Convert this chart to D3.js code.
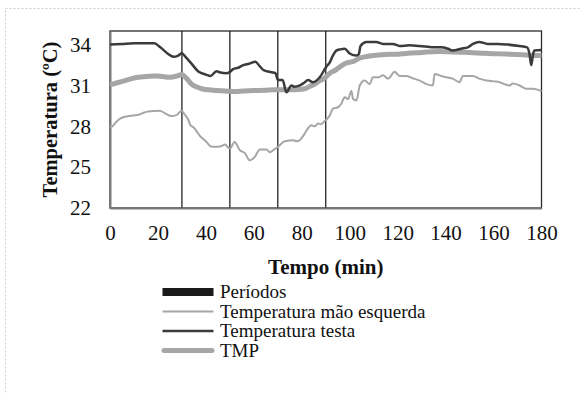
<!DOCTYPE html>
<html><head><meta charset="utf-8">
<script src="https://cdn.jsdelivr.net/npm/d3@7/dist/d3.min.js"></script>
<style>body{margin:0;background:#fff;}svg{display:block;}</style>
</head><body><svg id="c" width="581" height="394"></svg>
<script>
const FONT = "Liberation Serif";
const xTicks = [0,20,40,60,80,100,120,140,160,180];
const yTicks = [22,25,28,31,34];
const periods = [30,50,70,90];

const testaT = [0,5,10,15,18.5,21,24,26.5,28.5,30,31.5,34,37,40,42,44.4,46,48.6,50,51.4,53.5,55.6,58,60.6,62.5,64.3,67.4,69,70.1,72,73.6,75.7,77,79.2,81,82.6,84.7,87.5,90.3,91.7,93,94.4,96,97.9,100,102.8,103.8,104.5,106.9,111,113.9,118,120.8,125,129,132.6,134.7,138,141,143,146.5,149.3,151.4,154,157.6,162,166,170.8,174,175,175.7,176.5,177,180];
const testaV = [34.0,34.05,34.1,34.1,34.1,33.8,33.35,33.1,33.2,33.36,33.1,32.6,32.0,31.8,31.7,32.05,31.95,31.9,32.0,32.2,32.3,32.5,32.6,32.75,32.4,32.1,31.97,31.9,31.4,31.4,30.5,31.0,30.9,31.0,31.2,31.4,31.24,31.6,32.4,32.7,33.2,33.56,33.65,33.7,33.35,33.2,33.3,33.9,34.2,34.2,34.05,34.05,33.9,33.95,33.9,33.85,33.8,33.8,33.7,33.56,33.7,33.8,34.05,34.2,34.05,34.05,34.0,33.9,33.8,33.3,32.5,33.3,33.56,33.6];

const maoT = [0,1,2.5,4.2,6.25,9.7,12,14,16.7,20.8,23,25.7,27.5,29.9,31,32.6,33.5,35,37.5,40,42.4,45,46.5,47.9,50,52,54.2,56.2,58.3,60.4,62.5,65.3,66.7,68.5,70.1,72.9,76.4,78,79.2,80.6,82,84,85.5,86.8,88,89.6,91.7,93,95.1,96.5,97.9,99.3,100.7,101.4,102.8,104.2,106.25,108.3,109.7,112,113.9,116,118.75,120.8,123.6,126,129.2,132,134.7,135.4,138.2,140.3,143,145.8,147.2,151.4,154,157,160,162.5,164.5,166.7,168,170.8,173.6,176.4,180];
const maoV = [27.95,28.0,28.3,28.56,28.7,28.8,28.85,29.0,29.1,29.15,28.95,28.75,28.8,29.15,28.9,28.5,28.1,27.9,27.3,26.9,26.5,26.5,26.55,26.66,26.37,26.85,26.24,26.05,25.5,25.75,26.3,26.3,26.1,26.3,26.5,26.9,26.97,26.9,27.0,27.3,27.7,28.07,28.0,28.2,28.15,28.4,28.8,29.3,29.4,29.66,30.14,30.0,30.6,30.0,29.9,31.0,31.36,31.1,31.6,31.6,31.75,31.5,32.0,31.7,31.7,31.55,31.36,31.1,31.0,31.85,31.7,31.6,31.5,31.24,31.7,31.7,31.5,31.36,31.3,31.24,31.1,31.0,31.15,31.0,30.76,30.76,30.58];

const tmpT = [0,3,6.25,9,11.8,15,18.75,22,25,28,29.9,32,34,36,38.2,41,44.4,48,52,56,60.4,65,68.75,73,77,81.25,83.5,85.4,87.5,89.6,91.7,93.75,97.9,102,104,106.25,110,114.6,120,124.3,130,136.8,143.75,150,156.25,163,170,175,180];
const tmpV = [31.05,31.2,31.36,31.5,31.6,31.65,31.7,31.65,31.6,31.7,31.8,31.5,31.1,30.9,30.76,30.68,30.63,30.6,30.56,30.6,30.63,30.65,30.68,30.68,30.68,30.76,30.95,31.1,31.35,31.55,31.9,32.1,32.6,32.8,33.0,33.1,33.2,33.27,33.3,33.36,33.42,33.5,33.45,33.42,33.36,33.32,33.27,33.22,33.2];

const legendLabels = ["Períodos","Temperatura mão esquerda","Temperatura testa","TMP"];

const svg = d3.select("#c");
svg.append("rect").attr("x",5.5).attr("y",8.5).attr("width",600).attr("height",420)
  .attr("fill","none").attr("stroke","#cfcfcf").attr("stroke-dasharray","2,2");

const L=110, R=541.5, T=31, B=208;
const x = d3.scaleLinear().domain([0,180]).range([L,R]);
const y = d3.scaleLinear().domain([22,35]).range([B,T]);

svg.append("rect").attr("x",L).attr("y",T).attr("width",R-L).attr("height",B-T)
  .attr("fill","none").attr("stroke","#2a2a2a").attr("stroke-width",1.3);

svg.selectAll(".per").data(periods).join("line")
  .attr("x1",d=>x(d)).attr("x2",d=>x(d)).attr("y1",T).attr("y2",B)
  .attr("stroke","#111").attr("stroke-width",1.2);

const gx = svg.append("g").attr("transform",`translate(0,${B})`)
  .call(d3.axisBottom(x).tickValues(xTicks).tickSize(0).tickPadding(17).tickFormat(d3.format("d")));
gx.attr("font-family",FONT).attr("font-size",21);
gx.select(".domain").attr("stroke","#7a7a7a").attr("stroke-width",2);
gx.selectAll("text").attr("font-family",FONT).attr("font-size",21).attr("fill","#111");

const gy = svg.append("g").attr("transform",`translate(${L},0)`)
  .call(d3.axisLeft(y).tickValues(yTicks).tickSize(0).tickPadding(19).tickFormat(d3.format("d")));
gy.attr("font-family",FONT).attr("font-size",21);
gy.select(".domain").attr("stroke","#7a7a7a").attr("stroke-width",2);
gy.selectAll("text").attr("font-family",FONT).attr("font-size",21).attr("fill","#111");

const line = d3.line().x(d=>x(d[0])).y(d=>y(d[1])).curve(d3.curveMonotoneX);
const zip = (a,b)=>a.map((t,i)=>[t,b[i]]);

svg.append("path").datum(zip(tmpT,tmpV)).attr("d",line)
  .attr("fill","none").attr("stroke","#a6a6a6").attr("stroke-width",5);
svg.append("path").datum(zip(maoT,maoV)).attr("d",line)
  .attr("fill","none").attr("stroke","#a6a6a6").attr("stroke-width",2);
svg.append("path").datum(zip(testaT,testaV)).attr("d",line)
  .attr("fill","none").attr("stroke","#3b3b3b").attr("stroke-width",2.5);

svg.append("text").attr("x",(L+R)/2).attr("y",267).attr("dy","0.35em").attr("text-anchor","middle")
  .attr("font-family",FONT).attr("font-size",21).attr("font-weight","bold").attr("fill","#111").text("Tempo (min)");
svg.append("text").attr("transform",`translate(50,${(T+B)/2}) rotate(-90)`).attr("dy","0.35em").attr("text-anchor","middle")
  .attr("font-family",FONT).attr("font-size",20.5).attr("font-weight","bold").attr("fill","#111").text("Temperatura (ºC)");

const lg = svg.append("g");
const rowsY = [292,311.5,331,350.5];
const sw = [
  {c:"#1a1a1a", w:8},
  {c:"#a6a6a6", w:2},
  {c:"#3b3b3b", w:2.5},
  {c:"#a6a6a6", w:5}
];
legendLabels.forEach((lab,i)=>{
  lg.append("line").attr("x1",i===3?164:162.5).attr("x2",i===3?212:213.5).attr("y1",rowsY[i]).attr("y2",rowsY[i])
    .attr("stroke",sw[i].c).attr("stroke-width",sw[i].w).attr("stroke-linecap", i===3?"round":"butt");
  lg.append("text").attr("x",220).attr("y",rowsY[i]).attr("dy","0.33em")
    .attr("font-family",FONT).attr("font-size",19).attr("fill","#111").text(lab);
});
</script></body></html>
